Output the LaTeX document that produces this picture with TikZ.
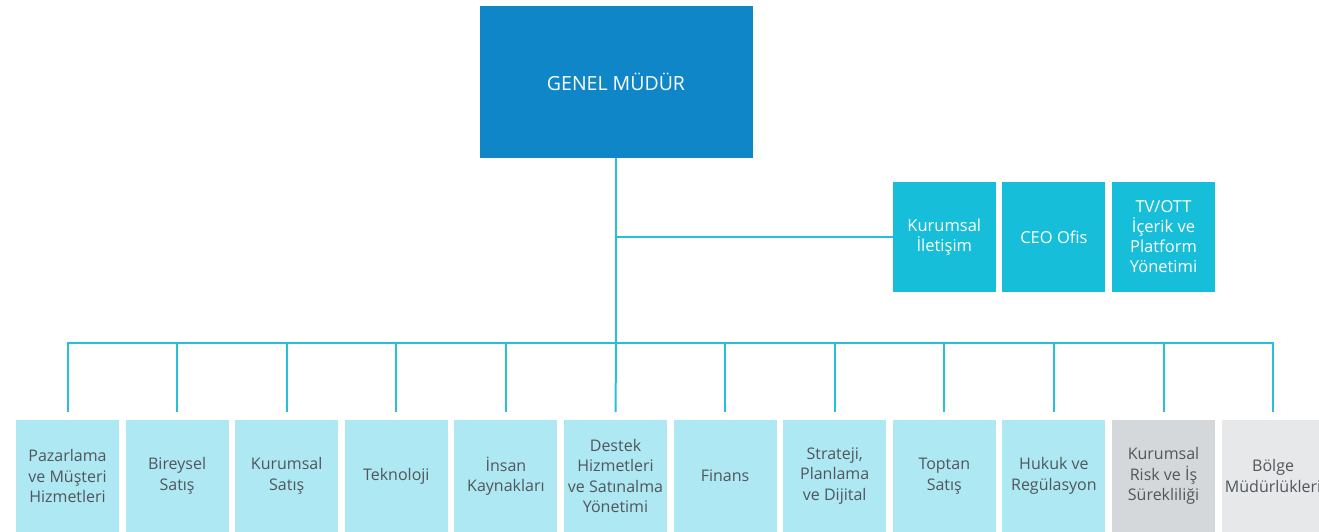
\documentclass[tikz,border=0pt]{standalone}
\usepackage{fontspec}
\setmainfont{Open Sans}
\usetikzlibrary{positioning}

\definecolor{gmblue}{RGB}{14,134,200}
\definecolor{sidecyan}{RGB}{23,190,217}
\definecolor{unitcyan}{RGB}{174,232,242}
\definecolor{riskgray}{RGB}{213,216,219}
\definecolor{regiongray}{RGB}{231,232,234}
\definecolor{linkcyan}{RGB}{40,192,216}
\definecolor{unittext}{RGB}{80,86,92}

\begin{document}
\begin{tikzpicture}[x=1pt, y=1pt, node distance=6.6pt]

\tikzstyle{top} = [rectangle, minimum width=273pt, minimum height=152pt, inner sep=0pt, outer sep=0pt, fill=gmblue, text=white, font=\fontsize{19.5}{22}\selectfont]

\tikzstyle{side} = [rectangle, minimum width=103pt, minimum height=110pt, inner sep=0pt, outer sep=0pt, align=center, fill=sidecyan, text=white, font=\fontsize{16.5}{20}\selectfont]

\tikzstyle{unit} = [rectangle, minimum width=103pt, minimum height=112pt, inner sep=0pt, outer sep=0pt, align=center, fill=unitcyan, text=unittext, font=\fontsize{16}{20.5}\selectfont]

\tikzstyle{link} = [draw=linkcyan, line width=2pt]

    \useasboundingbox (0,0) rectangle (1319,-531);

    \node [top] (gm) at (616,-82) {GENEL MÜDÜR};

    \node [unit] (b1) at (67.5,-476) {Pazarlama\\ve Müşteri\\Hizmetleri};
    \node [unit, right=of b1] (b2) {Bireysel\\Satış};
    \node [unit, right=of b2] (b3) {Kurumsal\\Satış};
    \node [unit, right=of b3] (b4) {Teknoloji};
    \node [unit, right=of b4] (b5) {İnsan\\Kaynakları};
    \node [unit, right=of b5] (b6) {Destek\\Hizmetleri\\ve Satınalma\\Yönetimi};
    \node [unit, right=of b6] (b7) {Finans};
    \node [unit, right=of b7] (b8) {Strateji,\\Planlama\\ve Dijital};
    \node [unit, right=of b8] (b9) {Toptan\\Satış};
    \node [unit, right=of b9] (b10) {Hukuk ve\\Regülasyon};
    \node [unit, right=of b10, fill=riskgray] (b11) {Kurumsal\\Risk ve İş\\Sürekliliği};
    \node [unit, right=of b11, fill=regiongray] (b12) {Bölge\\Müdürlükleri};

    \node [side] (kur) at (b9 |- 0,-237) {Kurumsal\\İletişim};
    \node [side] (ceo) at (b10 |- 0,-237) {CEO Ofis};
    \node [side] (tv) at (b11 |- 0,-237) {TV/OTT\\İçerik ve\\Platform\\Yönetimi};

    \coordinate (fork) at (gm.south |- kur.west);
    \coordinate (bus) at (gm.south |- 0,-343);

    \draw [link] (gm.south) -- (bus);
    \draw [link] (fork) -- (kur.west);
    \draw [link, shorten >=8pt] (bus) -| (b1.north);
    \draw [link, shorten >=8pt] (bus) -| (b2.north);
    \draw [link, shorten >=8pt] (bus) -| (b3.north);
    \draw [link, shorten >=8pt] (bus) -| (b4.north);
    \draw [link, shorten >=8pt] (bus) -| (b5.north);
    \draw [link, shorten >=8pt] (bus) -- (b6.north);
    \draw [link, shorten >=8pt] (bus) -| (b7.north);
    \draw [link, shorten >=8pt] (bus) -| (b8.north);
    \draw [link, shorten >=8pt] (bus) -| (b9.north);
    \draw [link, shorten >=8pt] (bus) -| (b10.north);
    \draw [link, shorten >=8pt] (bus) -| (b11.north);
    \draw [link, shorten >=8pt] (bus) -| (b12.north);

\end{tikzpicture}
\end{document}
